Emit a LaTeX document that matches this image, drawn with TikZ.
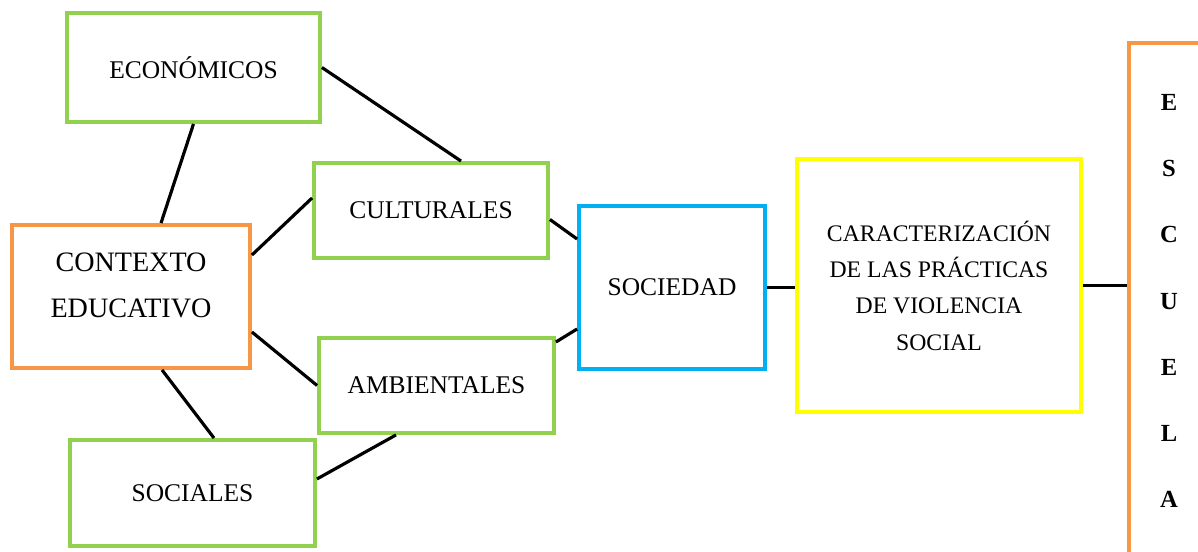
\documentclass[tikz,border=0pt]{standalone}
\usepackage{fontspec}
\setmainfont{Liberation Serif}
\usetikzlibrary{positioning,calc}
\definecolor{verde}{RGB}{146,208,80}
\definecolor{naranja}{RGB}{247,150,70}
\definecolor{celeste}{RGB}{0,176,240}
\definecolor{amarillo}{RGB}{255,255,0}

\begin{document}
\begin{tikzpicture}[
    caja/.style={rectangle, draw, line width=2.2pt, align=center, font=\fontsize{14.5}{18}\selectfont},
    enlace/.style={line width=1.8pt}]
         \clip (0,0) rectangle (23.96,11.02);
         % Define nodes
         \node[caja, draw=verde, minimum width=5.06cm, minimum height=2.18cm] (econ) at (3.87,9.67) {ECONÓMICOS};
         \node[caja, draw=naranja, minimum width=4.76cm, minimum height=2.86cm, font=\fontsize{16}{26}\selectfont, text depth=0.46cm] (ctx) at (2.62,5.09) {CONTEXTO\\EDUCATIVO};
         \node[caja, draw=verde, minimum width=4.68cm, minimum height=1.9cm] (cult) at (8.62,6.81) {CULTURALES};
         \node[caja, draw=verde, minimum width=4.7cm, minimum height=1.9cm] (amb) at (8.73,3.31) {AMBIENTALES};
         \node[caja, draw=verde, minimum width=4.9cm, minimum height=2.12cm] (soc) at (3.85,1.16) {SOCIALES};
         \node[caja, draw=celeste, minimum width=3.72cm, minimum height=3.26cm] (sociedad) at (13.44,5.27) {SOCIEDAD};
         \node[caja, draw=amarillo, minimum width=5.68cm, minimum height=5.06cm, font=\fontsize{13.5}{20.7}\selectfont] (caract) at (18.78,5.31) {CARACTERIZACIÓN\\DE LAS PRÁCTICAS\\DE VIOLENCIA\\SOCIAL};
         \node[caja, draw=naranja, minimum width=1.6cm, minimum height=10.32cm, font=\bfseries\fontsize{14}{37.6}\selectfont] (escuela) at (23.38,5.0) {E\\S\\C\\U\\E\\L\\A};

         % Draw edges
         \draw[enlace] (econ.south) -- ([xshift=0.6cm]ctx.north);
         \draw[enlace] (econ.east) -- ([xshift=0.6cm]cult.north);
         \draw[enlace] ([yshift=0.83cm]ctx.east) -- ([yshift=0.25cm]cult.west);
         \draw[enlace] ([yshift=-0.71cm]ctx.east) -- (amb.west);
         \draw[enlace] ([xshift=0.62cm]ctx.south) -- ([xshift=0.43cm]soc.north);
         \draw[enlace] ([yshift=0.28cm]soc.east) -- ([xshift=-0.81cm]amb.south);
         \draw[enlace] ([yshift=-0.18cm]cult.east) -- ([yshift=0.97cm]sociedad.west);
         \draw[enlace] ([yshift=0.87cm]amb.east) -- ([yshift=-0.83cm]sociedad.west);
         \draw[enlace] (sociedad.east) -- (sociedad.east -| caract.west);
         \draw[enlace] (caract.east) -- (caract.east -| escuela.west);
\end{tikzpicture}
\end{document}
